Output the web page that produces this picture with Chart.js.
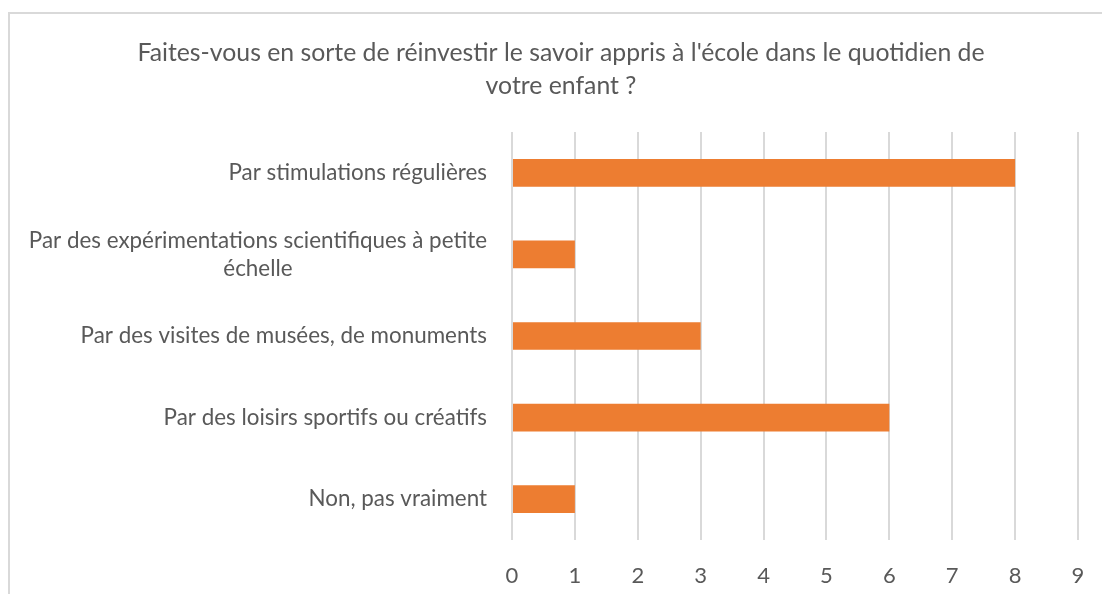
<!DOCTYPE html>
<html>
<head>
<meta charset="utf-8">
<script src="https://cdn.jsdelivr.net/npm/chart.js@4/dist/chart.umd.min.js"></script>
<style>
  body { margin: 0; overflow: hidden; background: #fff; }
  #frame { position: absolute; left: 8px; top: 12px; width: 1200px; height: 700px;
           border-left: 2px solid #d9d9d9; border-top: 2px solid #d9d9d9; }
  #wrap { position: absolute; left: 0; top: 0; width: 1122px; height: 594px; }
</style>
</head>
<body onload="handleOnLoad()">
<div id="frame"></div>
<div id="wrap"><canvas id="myChart" width="1122" height="594"></canvas></div>
<script>
const categories = [
  ["Par stimulations régulières"],
  ["Par des expérimentations scientifiques à petite", "échelle"],
  ["Par des visites de musées, de monuments"],
  ["Par des loisirs sportifs ou créatifs"],
  ["Non, pas vraiment"]
]
const answers = [8, 1, 3, 6, 1]
const xTicks = [0, 1, 2, 3, 4, 5, 6, 7, 8, 9]
const titleLines = [
  "Faites-vous en sorte de réinvestir le savoir appris à l'école dans le quotidien de",
  "votre enfant ?"
]

const fontFamily = "Lato, 'Liberation Sans', sans-serif"
const textColor = "#595959"

// y labels: block right aligned, lines centred inside the block (like Excel)
const yLabels = {
  id: "yLabels",
  afterDraw(chart){
    const ctx = chart.ctx
    const y = chart.scales.y
    ctx.save()
    ctx.font = "22.4px " + fontFamily
    ctx.fillStyle = textColor
    ctx.textAlign = "center"
    ctx.textBaseline = "middle"
    const lineH = 28
    categories.forEach((lines, i) => {
      const w = Math.max(...lines.map(l => ctx.measureText(l).width))
      const cx = 487 - w / 2
      const cy = y.getPixelForTick(i)
      lines.forEach((l, k) => {
        ctx.fillText(l, cx, cy + (k - (lines.length - 1) / 2) * lineH)
      })
    })
    ctx.restore()
  }
}

function handleOnLoad(){
  new Chart("myChart", {
    type: "bar",
    plugins: [yLabels],
    data: {
      labels: categories,
      datasets: [{
        data: answers,
        backgroundColor: "#ED7D31",
        categoryPercentage: 1,
        barPercentage: 0.34
      }]
    },
    options: {
      indexAxis: "y",
      responsive: false,
      animation: false,
      devicePixelRatio: 1,
      layout: { padding: { left: 44, right: 44, top: 0, bottom: 0 } },
      plugins: {
        legend: { display: false },
        tooltip: { enabled: false },
        title: {
          display: true,
          text: titleLines,
          color: textColor,
          font: { family: fontFamily, size: 24.8, weight: "normal", lineHeight: 33 / 24.8 },
          padding: { top: 37, bottom: 29 }
        }
      },
      scales: {
        x: {
          min: 0,
          max: 9,
          afterBuildTicks: s => { s.ticks = xTicks.map(v => ({ value: v })) },
          afterFit: s => { s.height = 54 },
          grid: { color: "#d9d9d9", lineWidth: 2, drawTicks: false },
          border: { display: false },
          ticks: { color: textColor, padding: 23, maxRotation: 0,
                   font: { family: fontFamily, size: 22 } }
        },
        y: {
          afterFit: s => { s.width = 468 },
          grid: { display: false },
          border: { display: false },
          ticks: { display: false }
        }
      }
    }
  })
}
</script>
</body>
</html>
